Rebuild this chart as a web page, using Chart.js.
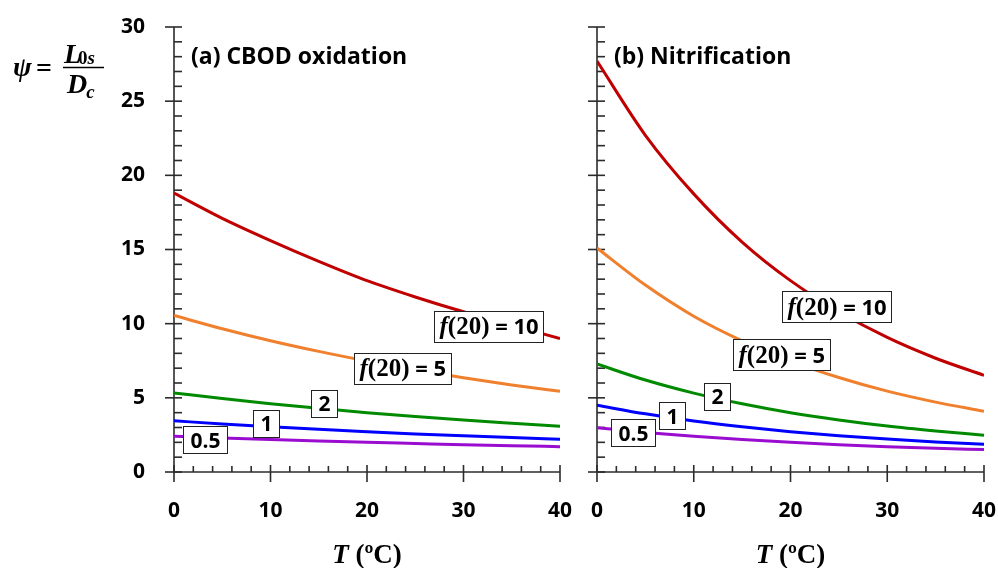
<!DOCTYPE html>
<html>
<head>
<meta charset="utf-8">
<script src="https://cdn.jsdelivr.net/npm/chart.js@4.4.1/dist/chart.umd.min.js"></script>
<style>
  html, body { margin: 0; padding: 0; background: #fff; }
  #wrap { position: relative; width: 998px; height: 568px; }
  #cbodChart { position: absolute; left: 0; top: 0; }
  #nitChart { position: absolute; left: 578px; top: 0; }
</style>
</head>
<body>
<div id="wrap">
  <canvas id="cbodChart" width="578" height="568"></canvas>
  <canvas id="nitChart" width="420" height="568"></canvas>
</div>
<script>
// temperature (oC)
const temps = [0, 5, 10, 15, 20, 25, 30, 35, 40];

// psi = L0s / Dc (a) CBOD oxidation
const cbod10 = [18.8, 17.1, 15.6, 14.2, 12.9, 11.8, 10.8, 9.9, 9.0];
const cbod5 = [10.55, 9.66, 8.85, 8.13, 7.48, 6.89, 6.35, 5.87, 5.44];
const cbod2 = [5.33, 4.95, 4.60, 4.29, 4.00, 3.74, 3.50, 3.29, 3.09];
const cbod1 = [3.45, 3.24, 3.05, 2.88, 2.72, 2.57, 2.44, 2.32, 2.21];
const cbod05 = [2.41, 2.30, 2.19, 2.09, 2.00, 1.92, 1.84, 1.77, 1.71];

// panel (b) Nitrification
const nit10 = [27.7, 22.7, 18.75, 15.5, 12.9, 10.8, 9.07, 7.67, 6.52];
const nit5 = [15.1, 12.6, 10.5, 8.84, 7.48, 6.37, 5.45, 4.71, 4.09];
const nit2 = [7.28, 6.20, 5.32, 4.60, 4.00, 3.51, 3.10, 2.77, 2.48];
const nit1 = [4.50, 3.92, 3.44, 3.05, 2.72, 2.45, 2.22, 2.03, 1.87];
const nit05 = [2.99, 2.67, 2.41, 2.19, 2.00, 1.84, 1.71, 1.60, 1.51];

// curve tags and where they sit (T, psi)
const tagText = ['f(20) = 10', 'f(20) = 5', '2', '1', '0.5'];
const cbodTagT = [32.6, 23.7, 15.5, 9.5, 3.2];
const cbodTagPsi = [9.81, 6.98, 4.62, 3.27, 2.19];
const nitTagT = [24.8, 19.1, 12.4, 7.8, 3.75];
const nitTagPsi = [11.15, 7.91, 5.11, 3.80, 2.65];

const lineColors = ['#c00000', '#f0802e', '#008a00', '#0000ff', '#9a0ccf'];

const SANS = '"Open Sans", "Liberation Sans", sans-serif';
const SERIF = '"Liberation Serif", "Times New Roman", serif';

function toPoints(vals) {
  return vals.map((v, i) => ({ x: temps[i], y: v }));
}

function makeDatasets(series) {
  return series.map((vals, i) => ({
    data: toPoints(vals),
    borderColor: lineColors[i],
    borderWidth: 3,
    pointRadius: 0,
    fill: false,
    cubicInterpolationMode: 'monotone'
  }));
}

function line(ctx, x1, y1, x2, y2) {
  ctx.beginPath();
  ctx.moveTo(x1, y1);
  ctx.lineTo(x2, y2);
  ctx.stroke();
}

// box with the f(20) value in it
function drawTag(ctx, cx, cy, text) {
  let parts, padX, h;
  if (text.startsWith('f(20)')) {
    parts = [
      { text: 'f', font: 'italic bold 25px ' + SERIF },
      { text: '(20)', font: 'bold 25px ' + SERIF },
      { text: text.slice(5), font: 'bold 22px ' + SANS }
    ];
    padX = 5; h = 31;
  } else {
    parts = [{ text: text, font: 'bold 21px ' + SANS }];
    padX = 7; h = 27;
  }
  let w = 0;
  parts.forEach(p => { ctx.font = p.font; p.w = ctx.measureText(p.text).width; w += p.w; });
  const bw = Math.round(w + 2 * padX);
  const x0 = Math.round(cx - bw / 2) + 0.5;
  const y0 = Math.round(cy - h / 2) + 0.5;
  ctx.fillStyle = '#fff';
  ctx.fillRect(x0, y0, bw, h);
  ctx.strokeStyle = '#222';
  ctx.lineWidth = 1;
  ctx.strokeRect(x0, y0, bw, h);
  ctx.fillStyle = '#000';
  ctx.textAlign = 'left';
  ctx.textBaseline = 'alphabetic';
  let x = x0 + padX;
  parts.forEach(p => { ctx.font = p.font; ctx.fillText(p.text, x, cy + 8); x += p.w; });
}

const frame = {
  id: 'frame',
  beforeDatasetsDraw(chart) {
    const ctx = chart.ctx;
    const { left, right, bottom } = chart.chartArea;
    const xs = chart.scales.x, ys = chart.scales.y;
    ctx.save();
    ctx.strokeStyle = '#2b2b2b';
    ctx.lineWidth = 1.6;
    line(ctx, left, ys.getPixelForValue(30), left, bottom);
    line(ctx, left, bottom, right, bottom);
    for (let v = 0; v <= 30; v++) {
      const y = ys.getPixelForValue(v);
      if (v % 5 === 0) line(ctx, left - 9, y, left + 8, y);
      else line(ctx, left, y, left + 8, y);
    }
    for (let t = 0; t <= 40; t += 2) {
      const x = xs.getPixelForValue(t);
      if (t % 10 === 0) line(ctx, x, bottom - 7, x, bottom + 10);
      else line(ctx, x, bottom - 6, x, bottom);
    }
    ctx.restore();
  },
  afterDatasetsDraw(chart, args, opts) {
    const ctx = chart.ctx;
    const { left, right } = chart.chartArea;
    const xs = chart.scales.x, ys = chart.scales.y;
    ctx.save();
    // tags
    tagText.forEach((t, i) => {
      drawTag(ctx, xs.getPixelForValue(opts.tagT[i]), ys.getPixelForValue(opts.tagPsi[i]), t);
    });
    // panel title
    ctx.fillStyle = '#000';
    ctx.textAlign = 'left';
    ctx.textBaseline = 'alphabetic';
    ctx.font = 'bold 23px ' + SANS;
    ctx.fillText(opts.title, left + 17, 64);
    // x axis title: T (ºC)
    const fT = 'italic bold 27px ' + SERIF, fR = 'bold 27px ' + SERIF;
    ctx.font = fT; const wT = ctx.measureText('T').width;
    ctx.font = fR; const wR = ctx.measureText(' (ºC)').width;
    let x = (left + right) / 2 - (wT + wR) / 2;
    ctx.font = fT; ctx.fillText('T', x, 563);
    ctx.font = fR; ctx.fillText(' (ºC)', x + wT, 563);
    // y axis title on the left panel
    if (opts.yTitle) {
      ctx.font = 'italic bold 28px ' + SERIF;
      ctx.fillText('ψ', 13, 76);
      ctx.font = 'bold 28px ' + SERIF;
      ctx.fillText('=', 36, 77);
      ctx.font = 'italic bold 28px ' + SERIF;
      ctx.fillText('L', 64, 63);
      const wL = ctx.measureText('L').width;
      ctx.font = 'bold 19px ' + SERIF;
      ctx.fillText('0', 64 + wL - 3, 64);
      const w0 = ctx.measureText('0').width;
      ctx.font = 'italic bold 19px ' + SERIF;
      ctx.fillText('s', 64 + wL - 3 + w0, 64);
      ctx.strokeStyle = '#000';
      ctx.lineWidth = 1.5;
      line(ctx, 63, 67.5, 104, 67.5);
      ctx.font = 'italic bold 28px ' + SERIF;
      ctx.fillText('D', 67, 93);
      const wD = ctx.measureText('D').width;
      ctx.font = 'italic bold 19px ' + SERIF;
      ctx.fillText('c', 67 + wD - 1, 98);
    }
    ctx.restore();
  }
};

function zeroPad(scale) {
  scale.paddingLeft = 0;
  scale.paddingRight = 0;
  scale.paddingTop = 0;
  scale.paddingBottom = 0;
}

function makeChart(canvasId, series, opts) {
  const tickFont = { family: SANS, size: 21, weight: 'bold' };
  return new Chart(document.getElementById(canvasId), {
    type: 'line',
    data: { datasets: makeDatasets(series) },
    options: {
      responsive: false,
      animation: false,
      events: [],
      layout: { padding: { top: 27, right: opts.padRight, left: 0, bottom: 0 } },
      plugins: {
        legend: { display: false },
        tooltip: { enabled: false },
        frame: { title: opts.title, tagT: opts.tagT, tagPsi: opts.tagPsi, yTitle: opts.yTitle }
      },
      scales: {
        x: {
          type: 'linear',
          min: 0, max: 40,
          grid: { display: false, drawTicks: false },
          border: { display: false },
          ticks: { stepSize: 10, color: '#000', font: tickFont, padding: 26, maxRotation: 0 },
          afterFit(scale) { scale.height = 96; zeroPad(scale); }
        },
        y: {
          type: 'linear',
          min: 0, max: 30,
          grid: { display: false, drawTicks: false },
          border: { display: false },
          ticks: { display: opts.yTicks, stepSize: 5, color: '#000', font: tickFont, padding: 29 },
          afterFit(scale) { scale.width = opts.yWidth; zeroPad(scale); }
        }
      }
    },
    plugins: [frame]
  });
}

makeChart('cbodChart', [cbod10, cbod5, cbod2, cbod1, cbod05], {
  title: '(a) CBOD oxidation', tagT: cbodTagT, tagPsi: cbodTagPsi,
  yTitle: true, yTicks: true, yWidth: 174, padRight: 18
});
makeChart('nitChart', [nit10, nit5, nit2, nit1, nit05], {
  title: '(b) Nitrification', tagT: nitTagT, tagPsi: nitTagPsi,
  yTitle: false, yTicks: false, yWidth: 19, padRight: 14
});
</script>
</body>
</html>
